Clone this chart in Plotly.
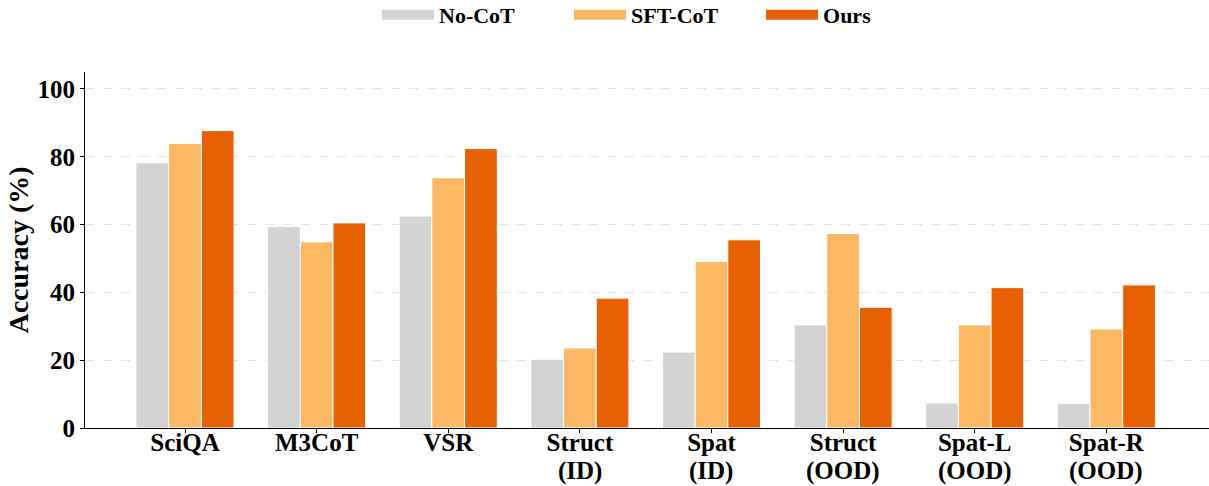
import plotly.graph_objects as go

categories = ["SciQA", "M3CoT", "VSR", "Struct<br>(ID)", "Spat<br>(ID)",
              "Struct<br>(OOD)", "Spat-L<br>(OOD)", "Spat-R<br>(OOD)"]
no_cot = [78.2, 59.4, 62.5, 20.3, 22.4, 30.4, 7.4, 7.2]
sft_cot = [83.9, 54.9, 73.8, 23.6, 49.1, 57.4, 30.4, 29.2]
ours = [87.7, 60.5, 82.4, 38.3, 55.5, 35.6, 41.4, 42.2]

series_names = ["No-CoT", "SFT-CoT", "Ours"]
colors = ["#d3d3d3", "#fdb863", "#e66101"]
y_ticks = [0, 20, 40, 60, 80, 100]

font_family = "Liberation Serif, Times New Roman, serif"
x_idx = list(range(len(categories)))
first_lines = [c.split("<br>")[0] for c in categories]
second_lines = [c.split("<br>")[1] if "<br>" in c else "" for c in categories]

fig = go.Figure()
for name, vals, c in zip(series_names, [no_cot, sft_cot, ours], colors):
    fig.add_trace(go.Bar(
        x=x_idx, y=vals, name=name, showlegend=False,
        marker=dict(color=c, line=dict(color="white", width=1)),
    ))
# legend proxies (wide rectangular swatches like the reference)
for name, c in zip(series_names, colors):
    fig.add_trace(go.Scatter(
        x=[None], y=[None], mode="lines", name=name,
        line=dict(color=c, width=14), showlegend=True,
    ))

# second line of the two-line category labels (tighter line spacing)
for i, txt in zip(x_idx, second_lines):
    if txt:
        fig.add_annotation(
            x=i, y=0, xref="x", yref="y", text=txt, showarrow=False,
            yanchor="top", yshift=-27,
            font=dict(size=25, family=font_family, weight="bold", color="black"),
        )

fig.update_layout(
    width=1209, height=486,
    barmode="group", bargap=0.255, bargroupgap=0.0,
    plot_bgcolor="white", paper_bgcolor="white",
    margin=dict(l=85, r=0, t=72, b=58, autoexpand=False),
    font=dict(family=font_family, color="black"),
    legend=dict(
        orientation="h", x=0.2598, xanchor="left", y=1.16, yanchor="middle",
        font=dict(size=22, family=font_family, weight="bold"),
        itemwidth=52, entrywidth=125, entrywidthmode="pixels",
    ),
    showlegend=True,
)
fig.update_xaxes(
    tickmode="array", tickvals=x_idx, ticktext=first_lines,
    range=[-0.76, 7.78], showline=True, linecolor="black", linewidth=1,
    ticks="outside", ticklen=4, tickcolor="black", ticklabelstandoff=-12,
    tickfont=dict(size=25, family=font_family, weight="bold"), showgrid=False,
    automargin=False,
)
fig.update_yaxes(
    range=[0, 105], tickvals=y_ticks, ticktext=[str(v) for v in y_ticks],
    showline=True, linecolor="black", linewidth=1,
    ticks="outside", ticklen=4, tickcolor="black",
    tickfont=dict(size=25, family=font_family, weight="bold"),
    showgrid=True, gridcolor="#e3e3e3", griddash="dash", gridwidth=1,
    zeroline=False, automargin=False,
    title=dict(text="Accuracy (%)", font=dict(size=28, family=font_family, weight="bold"), standoff=0),
)

fig.write_html(
    "out.html",
    config={"displayModeBar": False},
    post_script="document.body.style.margin='0';document.body.style.overflow='hidden';",
)
